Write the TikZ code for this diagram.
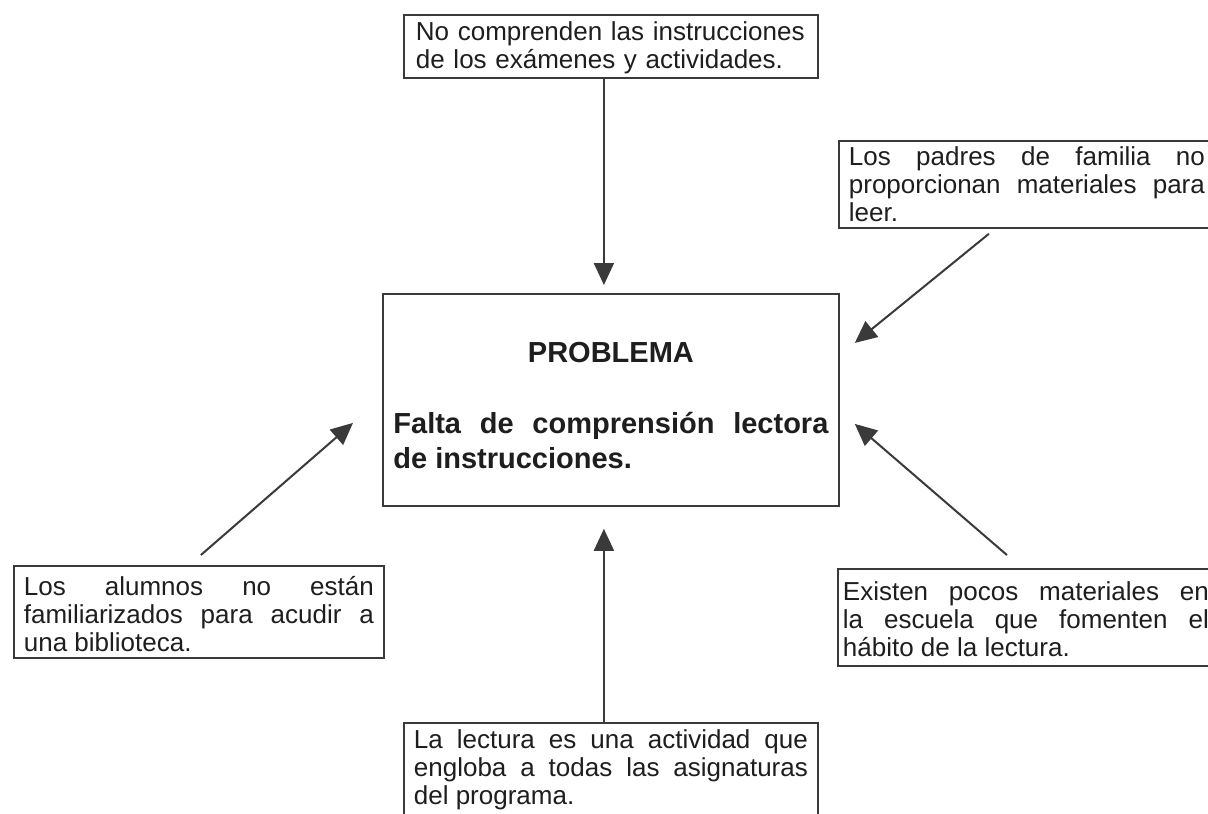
\documentclass[tikz,border=0pt]{standalone}
\usepackage{fontspec}
\setmainfont{Liberation Sans}
\usetikzlibrary{arrows.meta,calc}
\definecolor{ink}{HTML}{1E1E1E}
\definecolor{edge}{HTML}{3A3A3A}

\begin{document}
\begin{tikzpicture}[x=0.5pt,y=-0.5pt,
    causebox/.style={draw=edge,line width=0.9pt,anchor=north west,inner ysep=0pt,inner xsep=5pt,
      align=justify,text=ink,font=\fontsize{13}{14}\selectfont},
    cause/.style={draw=edge,line width=1pt,-{Triangle[length=11pt,width=10pt]}}]
  \path[use as bounding box,fill=white] (0,0) rectangle (1208,813);

  \node[causebox,font=\bfseries\fontsize{14.5}{17.5}\selectfont,inner xsep=5.25pt,text width=217.5pt,
    text height=34.5pt,text depth=71.5pt] (problema) at (382,293)
    {{\centering PROBLEMA\par}\vspace{18pt}Falta de comprensión lectora\linebreak de instrucciones.};

  \node[causebox,align=left,inner xsep=6pt,text width=195pt,text height=13pt,text depth=18.5pt] (nocomp) at (403,14)
    {No comprenden las instrucciones\\de los exámenes y actividades.};
  \node[causebox,text width=178pt,text height=12.5pt,text depth=31pt] (padres) at (838,140)
    {Los padres de familia no\linebreak proporcionan materiales para\linebreak leer.};
  \node[causebox,text width=175pt,text height=15pt,text depth=31pt] (alumnos) at (13,565)
    {Los alumnos no están\linebreak familiarizados para acudir a\linebreak una biblioteca.};
  \node[causebox,inner xsep=2.5pt,text width=183pt,text height=16pt,text depth=32.5pt] (existen) at (837,568)
    {Existen pocos materiales en\linebreak la escuela que fomenten el\linebreak hábito de la lectura.};
  \node[causebox,text width=197pt,text height=13pt,text depth=42pt] (lectura) at (403,722)
    {La lectura es una actividad que\linebreak engloba a todas las asignaturas\linebreak del programa.};

  \draw[cause] ($(nocomp.south)+(-7,0)$) -- ($(problema.north)+(-7,-8)$);
  \draw[cause] ($(padres.south)+(-38,5)$) -- ($(problema.east)+(15,-57)$);
  \draw[cause] ($(existen.north)+(-19,-13)$) -- ($(problema.east)+(15,24)$);
  \draw[cause] ($(alumnos.north)+(2,-10)$) -- ($(problema.west)+(-29,23)$);
  \draw[cause] ($(lectura.north)+(-7,0)$) -- ($(problema.south)+(-7,22)$);
\end{tikzpicture}
\end{document}
